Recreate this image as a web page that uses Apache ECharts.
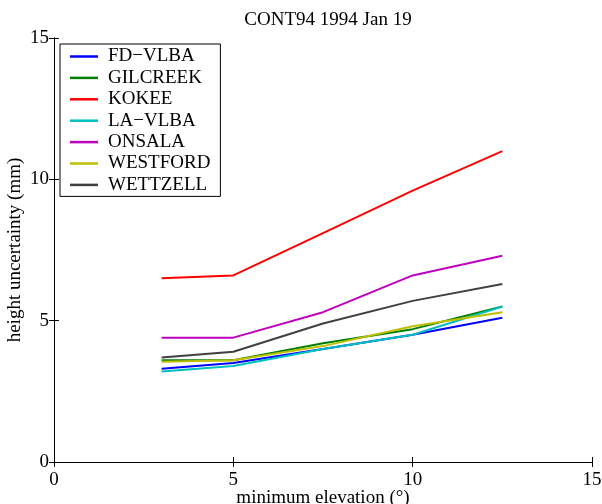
<!DOCTYPE html>
<html>
<head>
<meta charset="utf-8">
<script src="https://cdn.jsdelivr.net/npm/echarts@6/dist/echarts.min.js"></script>
<style>
  html, body { margin: 0; padding: 0; background: #fff; }
  #chart { width: 602px; height: 504px; }
</style>
</head>
<body>
<div id="chart"></div>
<script>
// minimum elevation cut-off (deg)
var elevations = [3, 5, 7.5, 10, 12.5];

var fdVlba   = [3.3, 3.5, 4.0, 4.5, 5.1];
var gilcreek = [3.6, 3.6, 4.2, 4.7, 5.5];
var kokee    = [6.5, 6.6, 8.1, 9.6, 11.0];
var laVlba   = [3.2, 3.4, 4.0, 4.5, 5.5];
var onsala   = [4.4, 4.4, 5.3, 6.6, 7.3];
var westford = [3.55, 3.6, 4.1, 4.8, 5.3];
var wettzell = [3.7, 3.9, 4.9, 5.7, 6.3];

var stations = ['FD\u2212VLBA', 'GILCREEK', 'KOKEE', 'LA\u2212VLBA', 'ONSALA', 'WESTFORD', 'WETTZELL'];
var values = [fdVlba, gilcreek, kokee, laVlba, onsala, westford, wettzell];
var colors = ['#0000ff', '#008000', '#ff0000', '#00bfbf', '#bf00bf', '#bfbf00', '#404040'];

var font = 'Liberation Serif';

function pairs(arr) {
  return arr.map(function (v, i) { return [elevations[i], v]; });
}

var series = stations.map(function (name, i) {
  return {
    name: name,
    type: 'line',
    data: pairs(values[i]),
    symbol: 'none',
    xAxisIndex: 0,
    yAxisIndex: 0,
    lineStyle: { color: colors[i], width: 2 },
    itemStyle: { color: colors[i] },
    animation: false
  };
});

var axisCommon = {
  min: 0, max: 15, interval: 5,
  axisLine: { show: true, lineStyle: { color: '#000', width: 1 } },
  axisTick: { show: true, inside: true, length: 5, lineStyle: { color: '#000' } },
  splitLine: { show: false }
};

var chart = echarts.init(document.getElementById('chart'));
chart.setOption({
  backgroundColor: '#fff',
  color: colors,
  title: {
    text: 'CONT94 1994 Jan 19',
    left: 323, top: 6, textAlign: 'center',
    textStyle: { fontFamily: font, fontSize: 19, fontWeight: 'normal', color: '#000' }
  },
  grid: { left: 54, right: 10, top: 38, bottom: 42, containLabel: false, outerBoundsMode: 'none' },
  legend: {
    orient: 'vertical',
    left: 60, top: 44,
    padding: [3, 10, 2, 10],
    icon: 'rect',
    itemWidth: 28, itemHeight: 2.5, itemGap: 2.4,
    borderColor: '#000', borderWidth: 1,
    backgroundColor: '#fff',
    textStyle: { fontFamily: font, fontSize: 19, lineHeight: 19, color: '#000', padding: [0, 0, 0, 5] },
    data: stations
  },
  xAxis: [
    Object.assign({}, axisCommon, {
      type: 'value', position: 'bottom',
      name: 'minimum elevation (\u00b0)', nameLocation: 'middle', nameGap: 27,
      nameMoveOverlap: false,
      nameTextStyle: { fontFamily: font, fontSize: 19, color: '#000' },
      axisLabel: { fontFamily: font, fontSize: 19, color: '#000', margin: 9 }
    }),
    Object.assign({}, axisCommon, {
      type: 'value', position: 'top', axisLabel: { show: false }
    })
  ],
  yAxis: [
    Object.assign({}, axisCommon, {
      type: 'value', position: 'left',
      name: 'height uncertainty (mm)', nameLocation: 'middle', nameGap: 29,
      nameMoveOverlap: false,
      nameTextStyle: { fontFamily: font, fontSize: 19, color: '#000' },
      axisLabel: { fontFamily: font, fontSize: 19, color: '#000', margin: 5 }
    }),
    Object.assign({}, axisCommon, {
      type: 'value', position: 'right', axisLabel: { show: false }
    })
  ],
  series: series
});
</script>
</body>
</html>
